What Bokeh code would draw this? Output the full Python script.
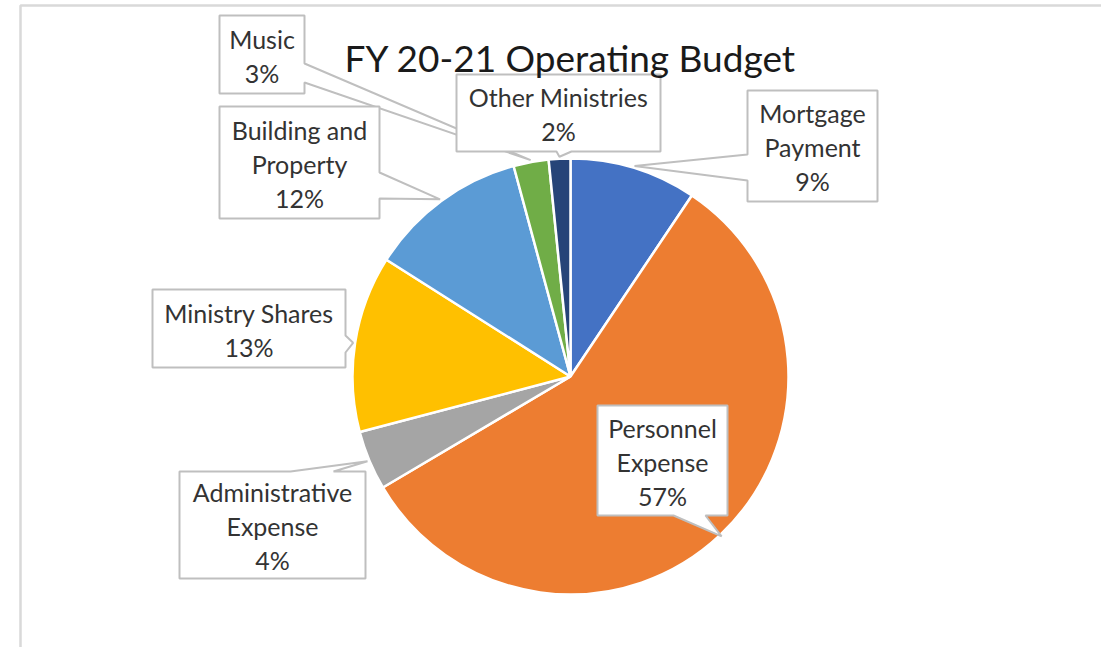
import math
from bokeh.plotting import figure
from bokeh.models import Range1d
from bokeh.embed import file_html
from bokeh.resources import INLINE
from bokeh.core.properties import value

# ---------------- data ----------------
title_text = "FY 20-21 Operating Budget"
categories = ["Mortgage Payment", "Personnel Expense", "Administrative Expense",
              "Ministry Shares", "Building and Property", "Music", "Other Ministries"]
amounts = [9.4, 57.1, 4.4, 13.1, 11.8, 2.6, 1.6]
colors = ["#4472C4", "#ED7D31", "#A5A5A5", "#FFC000", "#5B9BD5", "#70AD47", "#264478"]
label_lines = [["Mortgage", "Payment"], ["Personnel", "Expense"], ["Administrative", "Expense"],
               ["Ministry Shares"], ["Building and", "Property"], ["Music"], ["Other Ministries"]]

# ---------------- layout (pixels) ----------------
W, H = 1101, 647
X0, Y0 = 0, 0
CX, CY, R = 570, 376, 218
FONT = "Lato"
LABEL_SIZE = 25
LINE_STEP = 34
BOX_COLOR = "#BFBFBF"

# callout boxes: (left, top, right, bottom), side of pointer, pointer base (a1, a2)
callouts = {
    "Mortgage Payment":       ((747, 90, 877, 201), "left", (154, 180)),
    "Personnel Expense":      ((597, 405, 727, 515), "bottom", (673, 705)),
    "Administrative Expense": ((179, 471, 365, 578), "top", (290, 333)),
    "Ministry Shares":        ((152, 289, 345, 367), "right", (335, 352)),
    "Building and Property":  ((219, 106, 379, 218), "right", (172, 198)),
    "Music":                  ((219, 15, 304, 93), "right", (63, 82)),
    "Other Ministries":       ((456, 74, 660, 151), "bottom", (556, 571)),
}
draw_order = ["Music", "Building and Property", "Ministry Shares", "Administrative Expense",
              "Personnel Expense", "Mortgage Payment", "Other Ministries"]

p = figure(width=W, height=H, output_backend="svg", toolbar_location=None,
           x_range=Range1d(X0, X0 + W), y_range=Range1d(-(Y0 + H), -Y0),
           min_border=0)
p.axis.visible = False
p.grid.visible = False
p.outline_line_color = None
p.background_fill_color = "white"
p.border_fill_color = "white"

# chart-area border
p.line(x=[20, 20, X0 + W + 5], y=[-(Y0 + H + 5), -5, -5], line_color="#D9D9D9", line_width=2.5)

# pie
total = sum(amounts)
cum = 0.0
starts, ends, mids = [], [], []
for a in amounts:
    f0 = cum / total
    cum += a
    f1 = cum / total
    starts.append(math.pi / 2 - 2 * math.pi * f0)
    ends.append(math.pi / 2 - 2 * math.pi * f1)
    mids.append(math.pi / 2 - 2 * math.pi * (f0 + f1) / 2)

p.wedge(x=[CX] * len(amounts), y=[-CY] * len(amounts), radius=R,
        start_angle=starts, end_angle=ends, direction="clock",
        fill_color=colors, line_color="white", line_width=2.5)

# callouts
pct = {c: f"{round(a / total * 100)}%" for c, a in zip(categories, amounts)}
tips = {}
for c, m in zip(categories, mids):
    tips[c] = (CX + (R + 2) * math.cos(m), CY - (R + 2) * math.sin(m))

for c in draw_order:
    (l, t, r, b), side, (a1, a2) = callouts[c]
    tx, ty = tips[c]
    if side == "left":
        pts = [(l, t), (r, t), (r, b), (l, b), (l, a2), (tx, ty), (l, a1)]
    elif side == "right":
        pts = [(l, t), (r, t), (r, a1), (tx, ty), (r, a2), (r, b), (l, b)]
    elif side == "top":
        pts = [(l, t), (a1, t), (tx, ty), (a2, t), (r, t), (r, b), (l, b)]
    else:
        pts = [(l, t), (r, t), (r, b), (a2, b), (tx, ty), (a1, b), (l, b)]
    p.patch(x=[q[0] for q in pts], y=[-q[1] for q in pts], fill_color="white",
            line_color=BOX_COLOR, line_width=2)
    idx = categories.index(c)
    lines = label_lines[idx] + [pct[c]]
    cxb = (l + r) / 2
    cyb = (t + b) / 2 + 1
    n = len(lines)
    p.text(x=[cxb] * n, y=[-(cyb + (k - (n - 1) / 2) * LINE_STEP) for k in range(n)],
           text=lines, text_align="center", text_baseline="middle",
           text_font=value(FONT), text_font_size=f"{LABEL_SIZE}px", text_color="#333333")

# title
p.text(x=[570], y=[-57], text=[title_text], text_align="center", text_baseline="middle",
       text_font=value(FONT), text_font_size="37px", text_color="#1A1A1A")

open("out.html", "w").write(file_html(p, INLINE))
